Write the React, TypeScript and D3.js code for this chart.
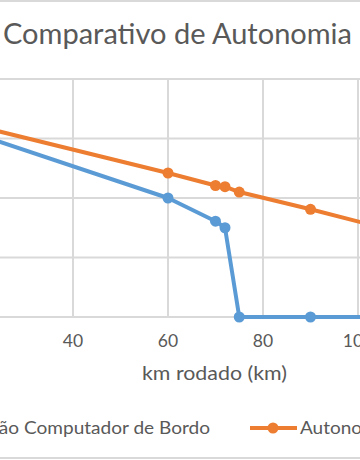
import React from "react";
import * as d3 from "d3";

const kmRodado = [0, 60, 70, 72, 75, 90, 110];
const autonomiaComputador = [360, 200, 161, 150, 0, 0, 0];
const autonomiaCalculada = [360, 242, 221, 219, 210, 181, 140];
const xTicks = [0, 20, 40, 60, 80, 100, 120];
const yTicks = [0, 100, 200, 300, 400];
const seriesNames = ["Autonomia Informação Computador de Bordo", "Autonomia Calculada"];
const titleText = "Comparativo de Autonomia";
const xAxisTitle = "km rodado (km)";

const W = 360;
const H = 460;
const BLUE = "#5B9BD5";
const ORANGE = "#ED7D31";
const GRID = "#D9D9D9";
const TEXT = "#595959";
const FONT = "Lato, 'Open Sans', sans-serif";

export default function App() {
  const x = d3.scaleLinear().domain([0, 120]).range([-117, 453]);
  const y = d3.scaleLinear().domain([0, 400]).range([317, 79]);

  const line = d3
    .line<number>()
    .x((_, i) => x(kmRodado[i]))
    .y((d) => y(d));

  const series = [
    { name: seriesNames[0], values: autonomiaComputador, color: BLUE },
    { name: seriesNames[1], values: autonomiaCalculada, color: ORANGE },
  ];

  // only tick labels that fall inside the visible crop
  const visibleXTicks = xTicks.filter((t) => x(t) > 0 && x(t) < W + 10);

  return (
    <svg
      width={W}
      height={H}
      style={{ position: "absolute", left: 0, top: 0, background: "#fff" }}
      fontFamily={FONT}
    >
      <rect x={0} y={0} width={W} height={H} fill="#fff" />
      <line x1={0} x2={W} y1={1} y2={1} stroke={GRID} strokeWidth={2} />
      <line x1={0} x2={W} y1={458} y2={458} stroke={GRID} strokeWidth={2} />

      <text
        x={3}
        y={44}
        fontSize={28}
        fill={TEXT}
        textLength={349}
        lengthAdjust="spacingAndGlyphs"
      >
        {titleText}
      </text>

      {yTicks.map((t) => (
        <line
          key={"gy" + t}
          x1={x(0)}
          x2={x(120)}
          y1={y(t)}
          y2={y(t)}
          stroke={GRID}
          strokeWidth={2}
        />
      ))}
      {xTicks.map((t) => (
        <line
          key={"gx" + t}
          x1={x(t)}
          x2={x(t)}
          y1={y(0)}
          y2={y(400)}
          stroke={GRID}
          strokeWidth={2}
        />
      ))}

      {visibleXTicks.map((t) => (
        <text
          key={"tx" + t}
          x={x(t)}
          y={347}
          textAnchor="middle"
          fontSize={17.5}
          fill={TEXT}
        >
          {t}
        </text>
      ))}

      <text
        x={214.5}
        y={380}
        textAnchor="middle"
        fontSize={19}
        fill={TEXT}
        textLength={145}
        lengthAdjust="spacingAndGlyphs"
      >
        {xAxisTitle}
      </text>

      {series.map((s) => (
        <g key={s.name}>
          <path
            d={line(s.values) || ""}
            fill="none"
            stroke={s.color}
            strokeWidth={4}
            strokeLinejoin="round"
            strokeLinecap="round"
          />
          {s.values.map((v, i) => (
            <circle
              key={i}
              cx={x(kmRodado[i])}
              cy={y(v)}
              r={5.5}
              fill={s.color}
            />
          ))}
        </g>
      ))}

      <g>
        <line x1={-220} x2={-173} y1={428} y2={428} stroke={BLUE} strokeWidth={4} />
        <circle cx={-196} cy={428} r={5.5} fill={BLUE} />
        <text
          x={210}
          y={434}
          textAnchor="end"
          fontSize={17}
          fill={TEXT}
          textLength={382}
          lengthAdjust="spacingAndGlyphs"
        >
          {seriesNames[0]}
        </text>
        <line x1={250} x2={297} y1={428} y2={428} stroke={ORANGE} strokeWidth={4} />
        <circle cx={273} cy={428} r={5.5} fill={ORANGE} />
        <text
          x={300}
          y={434}
          fontSize={17}
          fill={TEXT}
          textLength={176.5}
          lengthAdjust="spacingAndGlyphs"
        >
          {seriesNames[1]}
        </text>
      </g>
    </svg>
  );
}
